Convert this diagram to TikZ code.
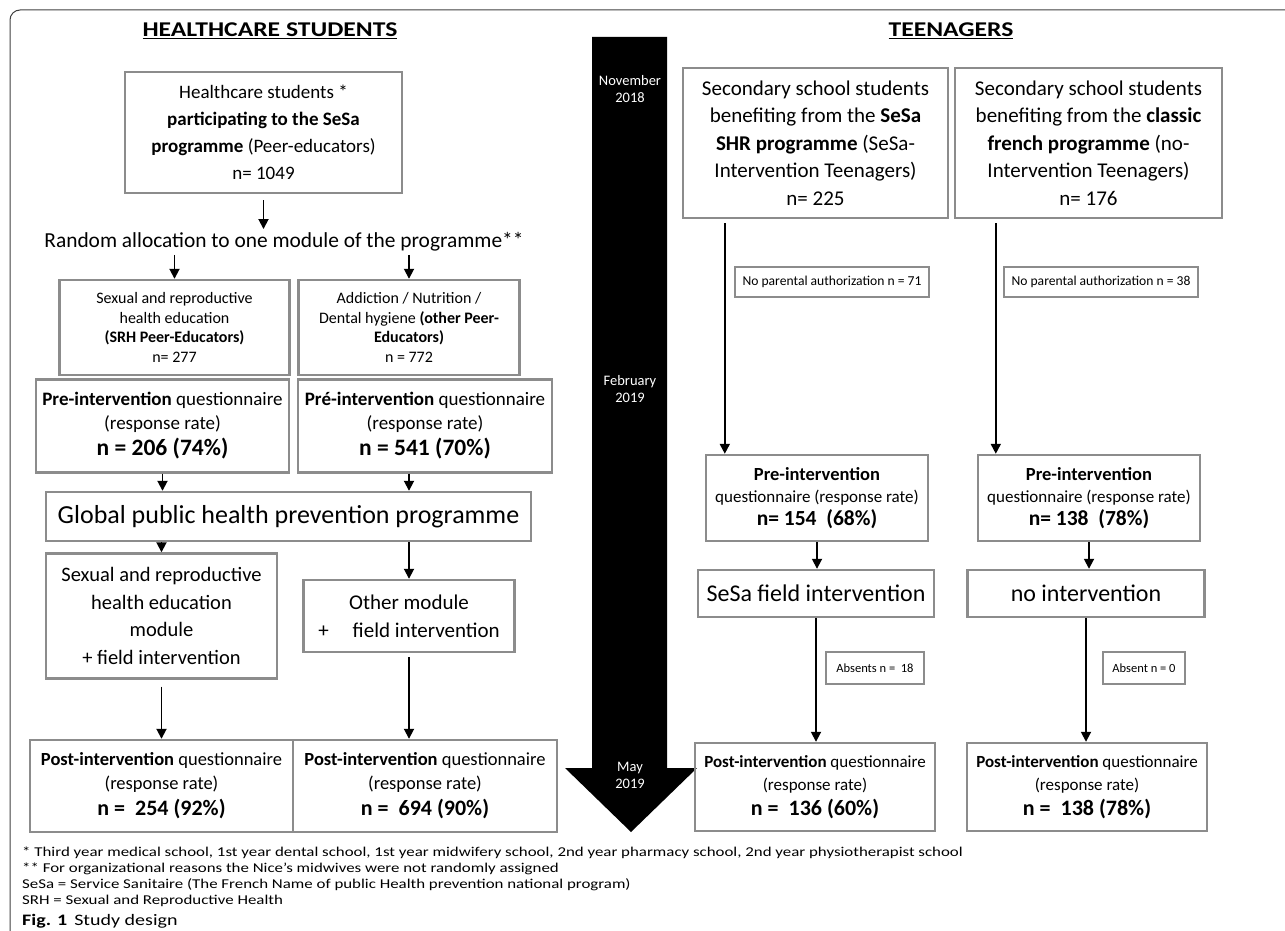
\documentclass[tikz,border=0pt]{standalone}
\usepackage{fontspec}
\setmainfont{Carlito}
\newfontfamily\widefont{Carlito}[FakeStretch=1.22]
\newfontfamily\notefont{Carlito}[FakeStretch=1.25]
\usetikzlibrary{arrows.meta,positioning}

\newcommand{\fsz}[2]{\fontsize{#1}{#2}\selectfont}
\definecolor{boxgray}{HTML}{8C8C8C}

\tikzset{
  box/.style={draw=boxgray,line width=2.4pt,align=center,inner sep=0pt},
  notebox/.style={draw=boxgray,line width=2pt,align=center,inner sep=0pt},
  arr/.style={-{Triangle[length=10pt,width=10pt]},line width=1.8pt},
  datelbl/.style={white,align=center,font=\fsz{14.5}{17}},
  grouptitle/.style={font=\widefont\fsz{21}{24}\bfseries}
}

\begin{document}
\begin{tikzpicture}[x=1pt,y=-1pt]
  \useasboundingbox (0,0) rectangle (1285,931);
  \draw[line width=1pt,black!75,rounded corners=10pt] (10,931) -- (10,10) -- (1285,10);

  % timeline
  \fill (592,37) -- (667,37) -- (667,768) -- (697,768) -- (631,832) -- (565,768) -- (592,768) -- cycle;
  \node[datelbl] (nov) at (630,89) {November\\2018};
  \node[datelbl] (feb) at (630,389) {February\\2019};
  \node[datelbl] (may) at (630,775) {May\\2019};

  % healthcare students
  \node[grouptitle] (titleL) at (270,31) {\underline{HEALTHCARE STUDENTS}};
  \node[box,minimum width=277,minimum height=121,font=\fsz{19}{27}] (hs) at (263.5,132.5)
    {Healthcare students *\\ \textbf{participating to the SeSa}\\ \textbf{programme} (Peer-educators)\\ n= 1049};
  \node[font=\fsz{21.4}{24}] (alloc) at (284,242) {Random allocation to one module of the programme**};

  \node[box,minimum width=230,minimum height=95,font=\fsz{16}{19.5}] (srh) at (174.5,327.5)
    {Sexual and reproductive\\ health education\\ \textbf{(SRH Peer-Educators)}\\ n= 277};
  \node[box,minimum width=221,minimum height=95,font=\fsz{16}{19.5}] (add) at (409,327.5)
    {Addiction / Nutrition /\\ Dental hygiene \textbf{(other Peer-}\\ \textbf{Educators)}\\ n = 772};

  \node[box,minimum width=253,minimum height=93,font=\fsz{19}{24}] (pre1) at (162.5,426)
    {\textbf{Pre-intervention} questionnaire\\ (response rate)\\[2pt] {\fsz{23.5}{28}\bfseries n = 206 (74\%)}};
  \node[box,minimum width=254,minimum height=93,font=\fsz{19}{24}] (pre2) at (425,426)
    {\textbf{Pré-intervention} questionnaire\\ (response rate)\\[2pt] {\fsz{23.5}{28}\bfseries n = 541 (70\%)}};

  \node[box,minimum width=485,minimum height=49,font=\fsz{26}{30}] (glob) at (288.5,516.5)
    {Global public health prevention programme};

  \node[box,minimum width=231,minimum height=125,font=\fsz{20.5}{27.5}] (mod1) at (161.5,616)
    {Sexual and reproductive\\ health education\\ module\\ + field intervention};
  \node[box,minimum width=211,minimum height=72,font=\fsz{21}{28}] (mod2) at (409,616)
    {Other module\\ +\hspace{24pt}field intervention};

  \node[box,minimum width=263,minimum height=92,font=\fsz{18.5}{24}] (post1) at (161.5,786)
    {\textbf{Post-intervention} questionnaire\\ (response rate)\\[2pt] {\fsz{22}{28}\bfseries n =~~254 (92\%)}};
  \node[box,minimum width=264,minimum height=92,font=\fsz{18.5}{24}] (post2) at (425,786)
    {\textbf{Post-intervention} questionnaire\\ (response rate)\\[2pt] {\fsz{22}{28}\bfseries n =~~694 (90\%)}};

  \draw[arr] ([yshift=-6pt]hs.south) -- (hs.south |- alloc.north);
  \draw[arr] (srh.north |- alloc.south) -- (srh.north);
  \draw[arr] (add.north |- alloc.south) -- (add.north);
  \draw[arr] (pre1.south) -- (pre1.south |- glob.north);
  \draw[arr] (pre2.south -| add) -- (glob.north -| add);
  \draw[arr] (glob.south -| mod1) -- (mod1.north);
  \draw[arr] (glob.south -| mod2) -- (mod2.north);
  \draw[arr] ([yshift=-7pt]mod1.south) -- (mod1.south |- post1.north);
  \draw[arr] ([yshift=-4pt]mod2.south) -- (mod2.south |- post2.north);

  % teenagers
  \node[grouptitle] (titleR) at (951,31) {\underline{TEENAGERS}};
  \node[box,minimum width=265,minimum height=150,font=\fsz{21}{27.4}] (s1) at (815.5,143)
    {Secondary school students\\ benefiting from the \textbf{SeSa}\\ \textbf{SHR programme} (SeSa-\\ Intervention Teenagers)\\ n= 225};
  \node[box,minimum width=267,minimum height=150,font=\fsz{21}{27.4}] (s2) at (1088.5,143)
    {Secondary school students\\ benefiting from the \textbf{classic}\\ \textbf{french programme} (no-\\ Intervention Teenagers)\\ n= 176};

  \node[notebox,minimum width=194,minimum height=30,font=\fsz{13.6}{16}] (auth1) at (832,282) {No parental authorization n = 71};
  \node[notebox,minimum width=194,minimum height=30,font=\fsz{13.6}{16}] (auth2) at (1101,282) {No parental authorization n = 38};

  \node[box,minimum width=222,minimum height=86,font=\fsz{17}{22}] (tpre1) at (817,498)
    {{\fsz{18.5}{22}\bfseries Pre-intervention}\\ questionnaire (response rate)\\[1pt] {\fsz{21.5}{24}\bfseries n= 154~~(68\%)}};
  \node[box,minimum width=222,minimum height=86,font=\fsz{17}{22}] (tpre2) at (1089,498)
    {{\fsz{18.5}{22}\bfseries Pre-intervention}\\ questionnaire (response rate)\\[1pt] {\fsz{21.5}{24}\bfseries n= 138~~(78\%)}};

  \node[box,minimum width=236,minimum height=47,font=\fsz{24}{28}] (fld1) at (816,593.5) {SeSa field intervention};
  \node[box,minimum width=237,minimum height=47,font=\fsz{24}{28}] (fld2) at (1086,593.5) {no intervention};

  \node[notebox,minimum width=98,minimum height=32,font=\fsz{12.5}{14}] (abs1) at (875,668) {Absents n =~~18};
  \node[notebox,minimum width=82,minimum height=32,font=\fsz{12.5}{14}] (abs2) at (1144,668) {Absent n = 0};

  \node[box,minimum width=240,minimum height=88,font=\fsz{17}{23}] (tpost1) at (815,787)
    {\textbf{Post-intervention} questionnaire\\ (response rate)\\[2pt] {\fsz{22}{28}\bfseries n =~~136 (60\%)}};
  \node[box,minimum width=240,minimum height=88,font=\fsz{17}{23}] (tpost2) at (1087,787)
    {\textbf{Post-intervention} questionnaire\\ (response rate)\\[2pt] {\fsz{22}{28}\bfseries n =~~138 (78\%)}};

  \draw[arr] ([xshift=43pt,yshift=-4pt]s1.south west) -- ([xshift=43pt]s1.south west |- tpre1.north);
  \draw[arr] ([xshift=42pt,yshift=-4pt]s2.south west) -- ([xshift=42pt]s2.south west |- tpre2.north);
  \draw[arr] (tpre1.south) -- (tpre1.south |- fld1.north);
  \draw[arr] (tpre2.south) -- (tpre2.south |- fld2.north);
  \draw[arr] (fld1.south) -- (fld1.south |- tpost1.north);
  \draw[arr] (fld2.south) -- (fld2.south |- tpost2.north);

  % notes
  \node[anchor=north west,align=left,inner sep=0pt,font=\notefont\fsz{13.5}{16}] (notes) at (22,847)
    {* Third year medical school, 1st year dental school, 1st year midwifery school, 2nd year pharmacy school, 2nd year physiotherapist school\\
     ** For organizational reasons the Nice’s midwives were not randomly assigned\\
     SeSa = Service Sanitaire (The French Name of public Health prevention national program)\\
     SRH = Sexual and Reproductive Health};
  \node[anchor=west,inner sep=0pt,font=\notefont\fsz{16}{18}] (caption) at (22,921) {\textbf{Fig. 1}\hspace{7pt}Study design};
\end{tikzpicture}
\end{document}
